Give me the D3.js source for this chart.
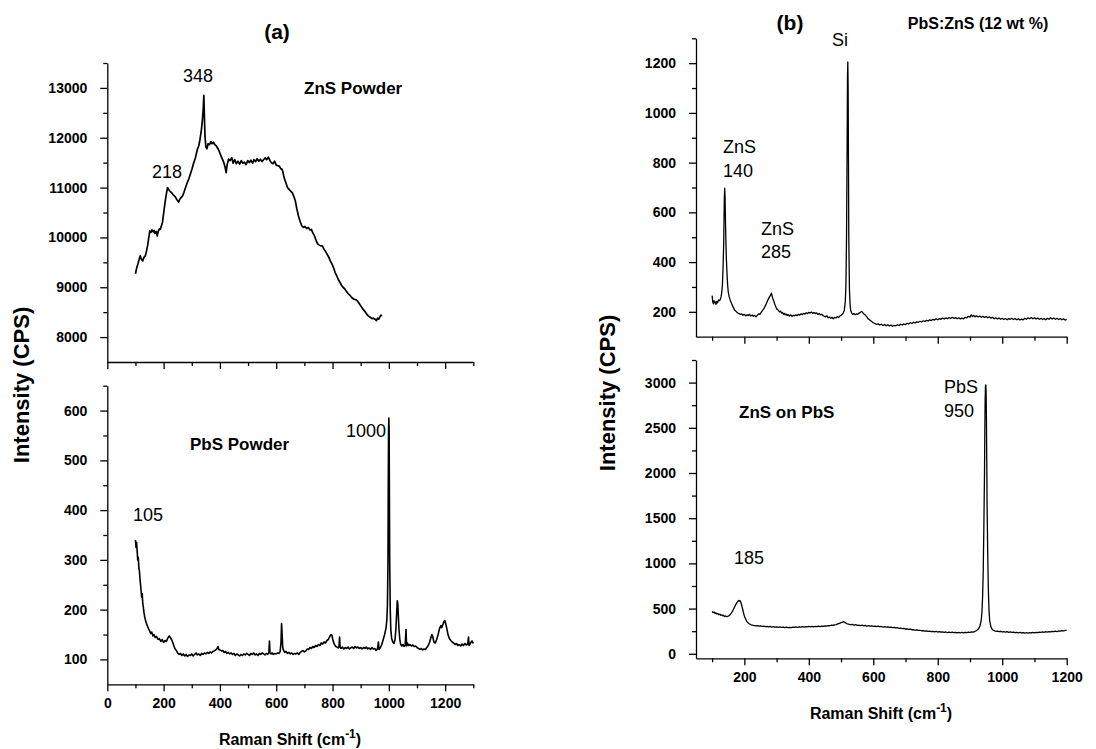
<!DOCTYPE html>
<html>
<head>
<meta charset="utf-8">
<script src="https://cdn.jsdelivr.net/npm/d3@7/dist/d3.min.js"></script>
<style>
  html, body { margin: 0; padding: 0; background: #fff; }
  svg { display: block; }
  text { font-family: "Liberation Sans", Arial, Helvetica, sans-serif; fill: #000; }
  .tick text { font-weight: bold; font-size: 14px; }
  .axis path, .axis line { stroke: #000; stroke-width: 1.3px; }
</style>
</head>
<body>
<svg id="chart" width="1096" height="749"></svg>
<script>
// ---------------- DATA ----------------
// (a) top: ZnS powder  [Raman shift, intensity CPS]
const znsPowder = [[100,9270],[104,9380],[109,9470],[113,9560],[117,9630],[121,9560],[126,9530],[130,9600],[135,9630],[139,9720],[143,9830],[147,9980],[151,10130],[155,10100],[159,10150],[163,10110],[166,10140],[170,10080],[174,10120],[177,10030],[181,10120],[185,10170],[188,10160],[192,10230],[196,10300],[200,10480],[205,10700],[209,10850],[214,11000],[218,10960],[222,10930],[228,10900],[233,10860],[239,10830],[244,10790],[248,10750],[253,10710],[257,10760],[262,10800],[267,10830],[272,10900],[278,11000],[284,11100],[290,11180],[295,11270],[301,11380],[307,11500],[313,11600],[320,11770],[325,11840],[329,11960],[334,12150],[338,12370],[341,12600],[343,12850],[345,12400],[347,12030],[350,11820],[354,11780],[358,11880],[363,11860],[368,11920],[372,11880],[377,11910],[382,11860],[388,11830],[393,11780],[398,11720],[402,11660],[408,11580],[414,11500],[418,11420],[422,11300],[426,11470],[431,11570],[436,11540],[442,11600],[447,11490],[453,11560],[458,11480],[464,11530],[470,11470],[476,11540],[481,11490],[487,11510],[493,11460],[499,11540],[505,11500],[510,11550],[516,11490],[521,11560],[527,11520],[532,11580],[538,11530],[544,11570],[549,11520],[555,11560],[561,11600],[566,11560],[572,11610],[578,11540],[583,11500],[589,11480],[594,11530],[600,11450],[605,11440],[611,11430],[616,11380],[620,11370],[623,11330],[628,11200],[634,11100],[640,11000],[645,10970],[651,10930],[657,10900],[662,10830],[668,10730],[673,10580],[679,10430],[685,10320],[691,10230],[697,10200],[702,10220],[708,10180],[714,10200],[720,10150],[725,10160],[730,10090],[736,10030],[741,9950],[747,9870],[752,9850],[758,9830],[764,9830],[770,9760],[775,9720],[781,9660],[787,9600],[792,9530],[798,9470],[803,9400],[809,9300],[815,9230],[820,9160],[826,9100],[832,9040],[837,9000],[843,8970],[849,8920],[856,8870],[863,8830],[869,8790],[876,8760],[883,8750],[889,8720],[894,8680],[900,8630],[906,8580],[911,8540],[917,8500],[923,8450],[928,8420],[934,8400],[940,8370],[945,8380],[951,8360],[956,8330],[960,8380],[964,8360],[968,8400],[972,8440],[976,8430]];

// (a) bottom: PbS powder
const pbsPowder = [[100,340],[102,325],[104,335],[106,318],[108,300],[110,305],[112,285],[114,278],[116,262],[118,250],[120,238],[122,225],[124,232],[126,212],[128,205],[130,195],[133,185],[136,178],[139,172],[142,168],[146,162],[150,158],[154,152],[158,155],[162,147],[166,150],[170,144],[175,146],[180,140],[185,142],[190,136],[195,140],[200,134],[205,138],[210,136],[215,143],[220,147],[224,144],[228,140],[232,135],[236,128],[240,122],[245,118],[250,113],[255,110],[260,112],[265,108],[270,111],[275,107],[280,110],[285,106],[290,109],[295,108],[300,111],[305,107],[310,110],[315,113],[320,109],[325,111],[330,108],[335,112],[340,110],[345,113],[350,111],[355,114],[360,112],[365,115],[370,113],[375,116],[380,117],[385,119],[390,122],[393,126],[396,120],[400,119],[405,117],[410,118],[415,114],[420,116],[425,112],[430,114],[435,111],[440,113],[445,110],[450,112],[455,108],[460,111],[465,109],[470,107],[475,110],[480,108],[485,111],[490,109],[495,112],[500,110],[505,108],[510,112],[515,110],[520,113],[525,109],[530,111],[535,108],[540,112],[545,110],[550,113],[555,111],[560,109],[565,112],[570,110],[574,114],[576,137],[578,113],[582,111],[586,113],[590,110],[595,112],[600,111],[605,113],[610,112],[614,116],[617,135],[619,172],[621,150],[623,125],[626,118],[630,114],[635,116],[640,112],[645,114],[650,111],[655,113],[660,110],[665,112],[670,111],[675,113],[680,110],[685,114],[690,116],[695,118],[700,115],[705,117],[710,121],[715,120],[720,124],[725,122],[730,126],[735,124],[740,128],[745,126],[750,130],[755,128],[760,133],[765,131],[770,135],[775,133],[780,138],[785,140],[790,146],[795,150],[798,148],[801,140],[805,132],[810,127],[815,125],[820,123],[823,126],[825,145],[827,124],[830,122],[835,125],[840,121],[845,124],[850,122],[855,125],[860,121],[865,123],[870,125],[875,122],[880,126],[885,123],[890,125],[895,122],[900,124],[905,121],[910,124],[915,122],[920,125],[925,121],[930,123],[935,120],[940,124],[945,121],[950,122],[955,118],[960,122],[963,135],[965,120],[970,124],[975,130],[980,140],[985,150],[990,163],[993,180],[995,210],[997,300],[998,450],[999,560],[1000,585],[1001,560],[1002,430],[1003,300],[1005,200],[1007,160],[1010,142],[1014,135],[1018,132],[1022,140],[1025,160],[1028,195],[1030,218],[1032,210],[1034,185],[1036,160],[1039,140],[1042,130],[1046,127],[1050,130],[1054,126],[1058,128],[1061,160],[1063,127],[1066,133],[1070,128],[1075,130],[1080,127],[1085,129],[1090,126],[1095,127],[1100,124],[1105,122],[1110,120],[1115,122],[1120,119],[1125,121],[1130,120],[1135,124],[1140,128],[1145,135],[1150,145],[1153,150],[1156,146],[1160,135],[1165,133],[1170,140],[1175,150],[1180,162],[1185,168],[1188,164],[1192,170],[1196,176],[1199,178],[1202,172],[1206,162],[1210,150],[1215,142],[1220,138],[1225,135],[1230,133],[1235,130],[1240,132],[1245,128],[1250,130],[1255,127],[1260,131],[1265,128],[1270,132],[1275,129],[1280,131],[1283,145],[1285,128],[1290,133],[1295,137],[1300,132]];

// (b) top: PbS:ZnS (12 wt %)
const pbsZns12 = [[100,265],[102,240],[104,232],[106,245],[108,236],[110,240],[112,230],[114,242],[117,236],[120,248],[123,245],[126,252],[128,262],[130,280],[132,310],[134,380],[136,480],[137,580],[138,660],[139,697],[140,670],[141,600],[142,530],[143,470],[144,420],[146,360],[148,310],[150,280],[153,260],[156,248],[159,238],[162,228],[165,220],[168,212],[171,205],[174,202],[177,198],[180,195],[184,193],[188,190],[192,192],[196,186],[200,190],[204,184],[208,188],[212,185],[216,190],[220,183],[224,187],[228,182],[232,186],[236,180],[240,186],[244,192],[248,190],[252,198],[256,205],[260,212],[264,222],[268,232],[272,245],[276,255],[279,262],[282,270],[284,275],[286,265],[288,255],[291,245],[294,232],[297,222],[300,212],[303,210],[306,205],[309,200],[312,203],[315,195],[318,198],[321,190],[324,194],[327,188],[330,191],[333,185],[336,189],[340,183],[344,188],[348,182],[352,186],[356,184],[360,188],[364,185],[368,190],[372,187],[376,192],[380,189],[384,194],[388,191],[392,196],[396,193],[400,198],[404,195],[408,199],[412,194],[416,197],[420,193],[424,196],[428,190],[432,193],[436,188],[440,190],[444,185],[448,182],[452,180],[456,184],[460,176],[464,179],[468,174],[472,178],[476,172],[480,178],[484,175],[488,181],[492,177],[496,183],[500,186],[504,190],[507,196],[510,205],[513,240],[515,300],[517,500],[519,900],[520,1150],[521,1205],[522,1100],[523,800],[524,500],[526,290],[528,230],[530,205],[533,195],[536,190],[540,193],[544,188],[548,192],[552,190],[556,195],[560,198],[564,202],[568,196],[572,190],[576,186],[580,180],[584,172],[588,168],[592,164],[596,160],[600,156],[605,153],[610,150],[615,152],[620,147],[625,150],[630,145],[635,149],[640,144],[645,148],[650,143],[655,147],[660,142],[665,146],[670,144],[675,148],[680,145],[685,150],[690,147],[695,151],[700,149],[705,154],[710,151],[715,156],[720,153],[725,158],[730,155],[735,160],[740,158],[745,162],[750,159],[755,164],[760,161],[765,166],[770,163],[775,168],[780,165],[785,170],[790,167],[795,172],[800,168],[805,173],[810,170],[815,175],[820,171],[825,176],[830,172],[835,177],[840,173],[845,178],[850,174],[855,177],[860,172],[865,176],[870,171],[875,175],[880,172],[885,178],[890,176],[895,182],[900,179],[904,188],[908,181],[912,186],[916,180],[920,184],[925,179],[930,183],[935,178],[940,182],[945,177],[950,181],[955,176],[960,180],[965,175],[970,178],[975,172],[980,176],[985,171],[990,175],[995,170],[1000,174],[1005,169],[1010,173],[1015,168],[1020,173],[1025,170],[1030,174],[1035,169],[1040,173],[1045,168],[1050,172],[1055,167],[1060,171],[1065,168],[1070,174],[1075,170],[1080,176],[1085,172],[1090,177],[1095,172],[1100,176],[1105,171],[1110,175],[1115,170],[1120,174],[1125,169],[1130,173],[1135,168],[1140,174],[1145,170],[1150,176],[1155,171],[1160,175],[1165,170],[1170,174],[1175,169],[1180,173],[1185,168],[1190,172],[1195,167],[1200,170]];

// (b) bottom: ZnS on PbS
const znsOnPbs = [[100,470],[103,455],[106,462],[109,448],[112,452],[115,440],[118,445],[121,432],[124,438],[127,426],[130,432],[133,420],[136,426],[139,412],[142,418],[145,410],[148,414],[151,418],[154,425],[157,438],[160,452],[163,468],[166,490],[169,512],[172,535],[175,555],[178,572],[181,585],[183,590],[185,582],[187,588],[189,570],[191,548],[193,518],[195,490],[197,460],[199,432],[201,408],[204,385],[207,362],[210,348],[213,338],[216,330],[220,322],[224,318],[228,314],[232,312],[236,308],[240,310],[245,306],[250,308],[255,303],[260,306],[265,300],[270,304],[275,298],[280,302],[285,296],[290,300],[295,294],[300,298],[305,293],[310,297],[315,292],[320,296],[325,290],[330,294],[335,289],[340,293],[345,290],[350,295],[355,292],[360,297],[365,293],[370,298],[375,295],[380,300],[385,296],[390,301],[395,297],[400,302],[405,298],[410,303],[415,299],[420,304],[425,300],[430,305],[435,301],[440,306],[445,302],[450,308],[455,305],[460,312],[465,310],[470,316],[475,314],[480,320],[485,322],[490,330],[495,336],[500,344],[505,350],[508,355],[511,348],[514,342],[517,335],[520,330],[525,326],[530,322],[535,325],[540,318],[545,322],[550,315],[555,318],[560,312],[565,316],[570,310],[575,313],[580,307],[585,311],[590,305],[595,309],[600,303],[605,307],[610,301],[615,305],[620,299],[625,302],[630,296],[635,300],[640,294],[645,298],[650,292],[655,295],[660,289],[665,292],[670,286],[675,288],[680,282],[685,284],[690,278],[695,280],[700,274],[705,276],[710,270],[715,272],[720,266],[725,268],[730,262],[735,264],[740,258],[745,260],[750,255],[755,257],[760,251],[765,254],[770,248],[775,251],[780,245],[785,249],[790,243],[795,247],[800,241],[805,245],[810,239],[815,243],[820,237],[825,241],[830,235],[835,240],[840,234],[845,239],[850,233],[855,238],[860,232],[865,237],[870,231],[875,236],[880,232],[885,238],[890,234],[895,240],[900,237],[905,243],[910,240],[914,246],[918,252],[922,262],[926,275],[929,292],[932,320],[935,380],[937,460],[939,620],[941,900],[943,1400],[945,2000],[946,2450],[947,2800],[948,2960],[949,2975],[950,2900],[951,2600],[952,2150],[953,1650],[955,1100],[957,700],[959,480],[961,370],[964,310],[967,280],[970,266],[974,258],[978,252],[982,248],[986,252],[990,245],[995,249],[1000,242],[1005,246],[1010,240],[1015,244],[1020,238],[1025,242],[1030,236],[1035,240],[1040,234],[1045,238],[1050,232],[1055,236],[1060,230],[1065,235],[1070,229],[1075,234],[1080,228],[1085,233],[1090,230],[1095,236],[1100,232],[1105,238],[1110,234],[1115,240],[1120,236],[1125,242],[1130,238],[1135,244],[1140,240],[1145,246],[1150,242],[1155,248],[1160,244],[1165,250],[1170,246],[1175,252],[1180,250],[1185,256],[1190,253],[1195,258],[1200,260]];

// Tick values
const leftXMajor  = [0, 200, 400, 600, 800, 1000, 1200];
const leftXMinor  = [100, 300, 500, 700, 900, 1100, 1300];
const rightXMajor = [200, 400, 600, 800, 1000, 1200];
const rightXMinor = [100, 300, 500, 700, 900, 1100];
const aYMajor = [8000, 9000, 10000, 11000, 12000, 13000];
const aYMinor = [8500, 9500, 10500, 11500, 12500, 13500];
const bYMajor = [100, 200, 300, 400, 500, 600];
const bYMinor = [150, 250, 350, 450, 550, 650];
const cYMajor = [200, 400, 600, 800, 1000, 1200];
const cYMinor = [300, 500, 700, 900, 1100, 1300];
const dYMajor = [0, 500, 1000, 1500, 2000, 2500, 3000];
const dYMinor = [250, 750, 1250, 1750, 2250, 2750, 3250];

// ---------------- DRAW ----------------
const svg = d3.select("#chart");

function panel(opt) {
  const x = d3.scaleLinear().domain(opt.xDomain).range([opt.left, opt.right]);
  const y = d3.scaleLinear().domain(opt.yDomain).range([opt.bottom, opt.top]);
  const g = svg.append("g");

  // minor ticks
  g.append("g").attr("class", "axis").attr("transform", `translate(0,${opt.bottom})`)
    .call(d3.axisBottom(x).tickValues(opt.xMinor).tickSize(4).tickFormat(""))
    .call(s => s.select(".domain").remove());
  g.append("g").attr("class", "axis").attr("transform", `translate(${opt.left},0)`)
    .call(d3.axisLeft(y).tickValues(opt.yMinor).tickSize(4).tickFormat(""))
    .call(s => s.select(".domain").remove());

  // major ticks
  const xa = d3.axisBottom(x).tickValues(opt.xMajor).tickSizeInner(7).tickSizeOuter(0).tickPadding(7);
  if (!opt.xLabels) xa.tickFormat("");
  else xa.tickFormat(d3.format("d"));
  g.append("g").attr("class", "axis").attr("transform", `translate(0,${opt.bottom})`).call(xa);

  g.append("g").attr("class", "axis").attr("transform", `translate(${opt.left},0)`)
    .call(d3.axisLeft(y).tickValues(opt.yMajor).tickSizeInner(7).tickSizeOuter(0).tickPadding(13).tickFormat(d3.format("d")));

  // spectrum
  const line = d3.line().x(d => x(d[0])).y(d => y(d[1]));
  g.append("path").datum(opt.data)
    .attr("fill", "none").attr("stroke", "#000").attr("stroke-width", opt.lw)
    .attr("stroke-linejoin", "round").attr("d", line);

  return {x, y, g};
}

panel({left:107.3, right:473.3, top:63, bottom:362, xDomain:[0,1300], yDomain:[7500,13500],
  xMajor:leftXMajor, xMinor:leftXMinor, yMajor:aYMajor, yMinor:aYMinor, xLabels:false, data:znsPowder, lw:1.7});
panel({left:107.3, right:473.3, top:385.7, bottom:684.3, xDomain:[0,1300], yDomain:[50,650],
  xMajor:leftXMajor, xMinor:leftXMinor, yMajor:bYMajor, yMinor:bYMinor, xLabels:true, data:pbsPowder, lw:1.6});
panel({left:696, right:1066.7, top:38.3, bottom:336.7, xDomain:[50,1200], yDomain:[100,1300],
  xMajor:rightXMajor, xMinor:rightXMinor, yMajor:cYMajor, yMinor:cYMinor, xLabels:false, data:pbsZns12, lw:1.3});
panel({left:696, right:1066.7, top:360, bottom:658.3, xDomain:[50,1200], yDomain:[-50,3250],
  xMajor:rightXMajor, xMinor:rightXMinor, yMajor:dYMajor, yMinor:dYMinor, xLabels:true, data:znsOnPbs, lw:1.3});

function txt(x, y, s, size, bold, anchor) {
  return svg.append("text").attr("x", x).attr("y", y).text(s)
    .attr("font-size", size).attr("font-weight", bold ? "bold" : "normal")
    .attr("text-anchor", anchor || "start");
}

// titles
txt(277, 39, "(a)", 21, true, "middle");
txt(790, 30, "(b)", 21, true, "middle");
txt(978, 29, "PbS:ZnS (12 wt %)", 16, true, "middle");

// panel labels
txt(304, 94, "ZnS Powder", 17, true);
txt(190, 450, "PbS Powder", 17, true);
txt(739, 418, "ZnS on PbS", 17, true);

// peak labels
txt(198, 82, "348", 18, false, "middle");
txt(167, 178, "218", 18, false, "middle");
txt(386, 437, "1000", 18, false, "end");
txt(148, 521, "105", 18, false, "middle");
txt(840, 46, "Si", 18, false, "middle");
txt(723, 153, "ZnS", 18, false);
txt(723, 177, "140", 18, false);
txt(761, 235, "ZnS", 18, false);
txt(761, 258, "285", 18, false);
txt(944, 393, "PbS", 18, false);
txt(944, 417, "950", 18, false);
txt(734, 564, "185", 18, false);

// axis titles
function yTitle(cx, cy) {
  svg.append("text").attr("transform", `translate(${cx},${cy}) rotate(-90)`)
    .attr("text-anchor", "middle").attr("font-size", 22).attr("font-weight", "bold")
    .text("Intensity (CPS)");
}
yTitle(29, 385);
yTitle(615, 393);

function xTitle(cx, cy) {
  const t = svg.append("text").attr("x", cx).attr("y", cy).attr("text-anchor", "middle")
    .attr("font-size", 16).attr("font-weight", "bold");
  t.append("tspan").text("Raman Shift (cm");
  t.append("tspan").attr("dy", -7).attr("font-size", 12).text("-1");
  t.append("tspan").attr("dy", 7).text(")");
}
xTitle(290, 745);
xTitle(881, 719);
</script>
</body>
</html>
